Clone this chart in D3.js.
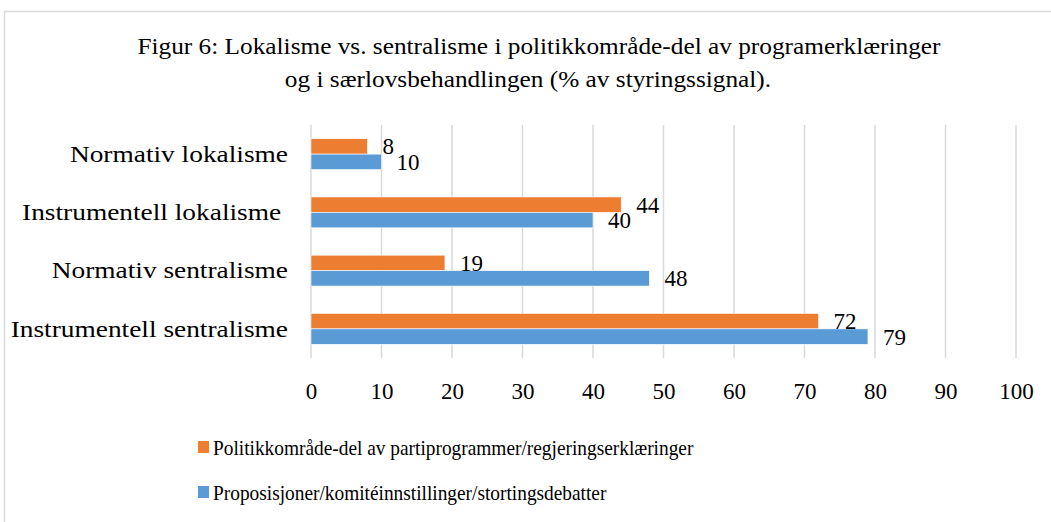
<!DOCTYPE html>
<html>
<head>
<meta charset="utf-8">
<script src="https://cdn.jsdelivr.net/npm/d3@7"></script>
<style>
  html, body { margin: 0; padding: 0; background: #fff; }
  svg text { font-family: "Liberation Serif", "DejaVu Serif", serif; fill: #000; }
</style>
</head>
<body>
<div id="app"></div>
<script>
const titleLines = [
  'Figur 6: Lokalisme vs. sentralisme i politikkområde-del av programerklæringer',
  'og i særlovsbehandlingen (% av styringssignal).',
];
const categories = [
  'Normativ lokalisme',
  'Instrumentell lokalisme ',
  'Normativ sentralisme',
  'Instrumentell sentralisme',
];
const seriesNames = [
  'Politikkområde-del av partiprogrammer/regjeringserklæringer',
  'Proposisjoner/komitéinnstillinger/stortingsdebatter',
];
const seriesColors = ['#ED7D31', '#5B9BD5'];
const programValues = [8, 44, 19, 72];
const proposisjonValues = [10, 40, 48, 79];
const xTicks = [0, 10, 20, 30, 40, 50, 60, 70, 80, 90, 100];

const width = 1051;
const height = 522;
const margin = { top: 125, right: 35, bottom: 164, left: 311 };

// stretch serif text a bit so Times metrics approach the wider Garamond
const widen = (sel, k) =>
  sel.each(function () {
    const len = this.getComputedTextLength();
    d3.select(this).attr('textLength', len * k).attr('lengthAdjust', 'spacingAndGlyphs');
  });

const rows = categories.map((c, i) => ({
  category: c,
  values: [programValues[i], proposisjonValues[i]],
}));

const svg = d3
  .select('#app')
  .append('svg')
  .attr('width', width)
  .attr('height', height);

// outer frame
svg
  .append('path')
  .attr('d', `M4.5,${height} V11.5 H${width}`)
  .attr('fill', 'none')
  .attr('stroke', '#d9d9d9')
  .attr('stroke-width', 1.5);

svg
  .append('g')
  .selectAll('text')
  .data(titleLines)
  .join('text')
  .attr('x', (d, i) => (i === 0 ? 539 : 528))
  .attr('y', (d, i) => 54 + i * 33)
  .attr('text-anchor', 'middle')
  .attr('font-size', 23)
  .text((d) => d)
  .call(widen, 1.1);

const x = d3
  .scaleLinear()
  .domain([0, 100])
  .range([margin.left, width - margin.right]);

const y = d3
  .scaleBand()
  .domain(categories)
  .range([margin.top, height - margin.bottom])
  .paddingInner(0.47)
  .paddingOuter(0.235);

const ySub = d3.scaleBand().domain([0, 1]).range([0, y.bandwidth()]);

// gridlines
svg
  .append('g')
  .selectAll('line')
  .data(xTicks)
  .join('line')
  .attr('x1', (d) => x(d))
  .attr('x2', (d) => x(d))
  .attr('y1', margin.top)
  .attr('y2', height - margin.bottom)
  .attr('stroke', '#d9d9d9')
  .attr('stroke-width', 1.5);

// x axis labels
const xAxis = svg
  .append('g')
  .attr('transform', `translate(0,${height - margin.bottom})`)
  .call(d3.axisBottom(x).tickValues(xTicks).tickSize(0).tickPadding(25));
xAxis.select('.domain').remove();
xAxis
  .selectAll('text')
  .attr('font-size', 23)
  .attr('font-family', '"Liberation Serif", serif')
  .attr('fill', '#000');

// y axis labels
const yAxis = svg
  .append('g')
  .attr('transform', `translate(${margin.left},0)`)
  .call(d3.axisLeft(y).tickSize(0).tickPadding(23));
yAxis.select('.domain').remove();
yAxis
  .selectAll('text')
  .attr('font-size', 24)
  .attr('font-family', '"Liberation Serif", serif')
  .attr('fill', '#000')
  .style('white-space', 'pre')
  .call(widen, 1.14);

// bars
const groups = svg
  .append('g')
  .selectAll('g')
  .data(rows)
  .join('g')
  .attr('transform', (d) => `translate(0,${y(d.category)})`);

groups
  .selectAll('rect')
  .data((d) => d.values)
  .join('rect')
  .attr('x', x(0))
  .attr('y', (d, i) => ySub(i))
  .attr('width', (d) => x(d) - x(0))
  .attr('height', ySub.bandwidth())
  .attr('fill', (d, i) => seriesColors[i])
  .attr('stroke', '#fff')
  .attr('stroke-width', 0.6);

groups
  .selectAll('text')
  .data((d) => d.values)
  .join('text')
  .attr('x', (d) => x(d) + 15)
  .attr('y', (d, i) => ySub(i) + ySub.bandwidth() / 2)
  .attr('dy', '0.35em')
  .attr('font-size', 23)
  .text((d) => d);

// legend
const legend = svg
  .append('g')
  .selectAll('g')
  .data(seriesNames)
  .join('g')
  .attr('transform', (d, i) => `translate(198,${447 + i * 45})`);

legend
  .append('rect')
  .attr('x', 0)
  .attr('y', -6)
  .attr('width', 11)
  .attr('height', 12)
  .attr('fill', (d, i) => seriesColors[i]);

legend
  .append('text')
  .attr('x', 15)
  .attr('dy', '0.35em')
  .attr('font-size', 21.5)
  .text((d) => d)
  .call(widen, 0.9);
</script>
</body>
</html>
